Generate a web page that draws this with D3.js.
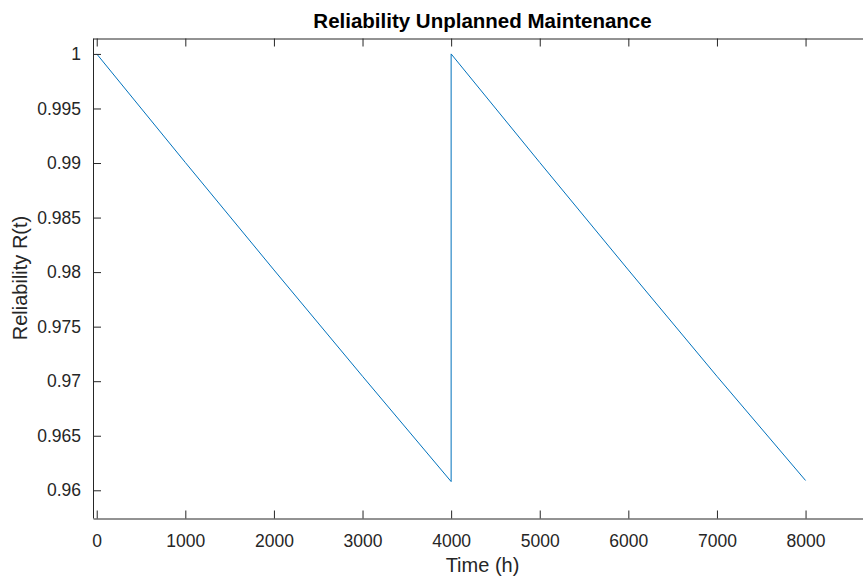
<!DOCTYPE html>
<html>
<head>
<meta charset="utf-8">
<script src="https://cdn.jsdelivr.net/npm/d3@7"></script>
<style>
  body { margin: 0; background: #fff; overflow: hidden; }
  text { font-family: "Liberation Sans", Arial, Helvetica, sans-serif; fill: #262626; }
</style>
</head>
<body>
<svg id="chart"></svg>
<script>
// Reliability values (two maintenance cycles)
const timeHours = [0, 1000, 2000, 3000, 4000, 4000, 5000, 6000, 7000, 8000];
const reliability = [1, 0.99005, 0.9802, 0.97045, 0.9608, 1, 0.99005, 0.9802, 0.97045, 0.9609];
const xTicks = [0, 1000, 2000, 3000, 4000, 5000, 6000, 7000, 8000];
const yTicks = [0.96, 0.965, 0.97, 0.975, 0.98, 0.985, 0.99, 0.995, 1];

const width = 863, height = 576;
// plot box runs a little past the right edge of the picture
const margin = {top: 38, right: -9, bottom: 58, left: 93};
const plotRight = width - margin.right;

const svg = d3.select('#chart')
    .attr('width', width)
    .attr('height', height);

const x = d3.scaleLinear()
    .domain([-42, 8750])
    .range([margin.left, plotRight]);

const y = d3.scaleLinear()
    .domain([0.95746, 1.00146])
    .range([height - margin.bottom, margin.top]);

const data = timeHours.map((t, i) => ({t: t, r: reliability[i]}));

// line
svg.append('path')
    .datum(data)
    .attr('fill', 'none')
    .attr('stroke', '#0072BD')
    .attr('stroke-width', 1)
    .attr('d', d3.line().x(d => x(d.t)).y(d => y(d.r)));

// axes, ticks pointing inward
const xAxis = d3.axisBottom(x)
    .tickValues(xTicks)
    .tickSizeInner(-8)
    .tickSizeOuter(0)
    .tickPadding(16)
    .tickFormat(d3.format('d'));

const xAxisTop = d3.axisTop(x)
    .tickValues(xTicks)
    .tickSizeInner(-8)
    .tickSizeOuter(0)
    .tickFormat('');

const yAxis = d3.axisLeft(y)
    .tickValues(yTicks)
    .tickSizeInner(-8)
    .tickSizeOuter(0)
    .tickPadding(12)
    .tickFormat(d => d3.format('~g')(d));

const styleAxis = g => {
  g.selectAll('.domain').attr('stroke', '#262626');
  g.selectAll('.tick line').attr('stroke', '#262626');
  g.selectAll('.tick text')
      .attr('fill', '#262626')
      .style('font-size', '17.5px');
};

svg.append('g')
    .attr('transform', `translate(0,${height - margin.bottom + 0.5})`)
    .call(xAxis)
    .call(styleAxis);

svg.append('g')
    .attr('transform', `translate(0,${margin.top + 0.5})`)
    .call(xAxisTop)
    .call(styleAxis);

svg.append('g')
    .attr('transform', `translate(${margin.left},0)`)
    .call(yAxis)
    .call(styleAxis);

// title and axis labels
const centerX = (margin.left + plotRight) / 2;

svg.append('text')
    .attr('x', centerX)
    .attr('y', 28)
    .attr('text-anchor', 'middle')
    .style('font-size', '20.5px')
    .style('font-weight', 'bold')
    .style('fill', '#000')
    .text('Reliability Unplanned Maintenance');

svg.append('text')
    .attr('x', centerX)
    .attr('y', 572)
    .attr('text-anchor', 'middle')
    .style('font-size', '20px')
    .text('Time (h)');

svg.append('text')
    .attr('transform', `translate(27,${(margin.top + height - margin.bottom) / 2}) rotate(-90)`)
    .attr('text-anchor', 'middle')
    .style('font-size', '20px')
    .text('Reliability R(t)');
</script>
</body>
</html>
